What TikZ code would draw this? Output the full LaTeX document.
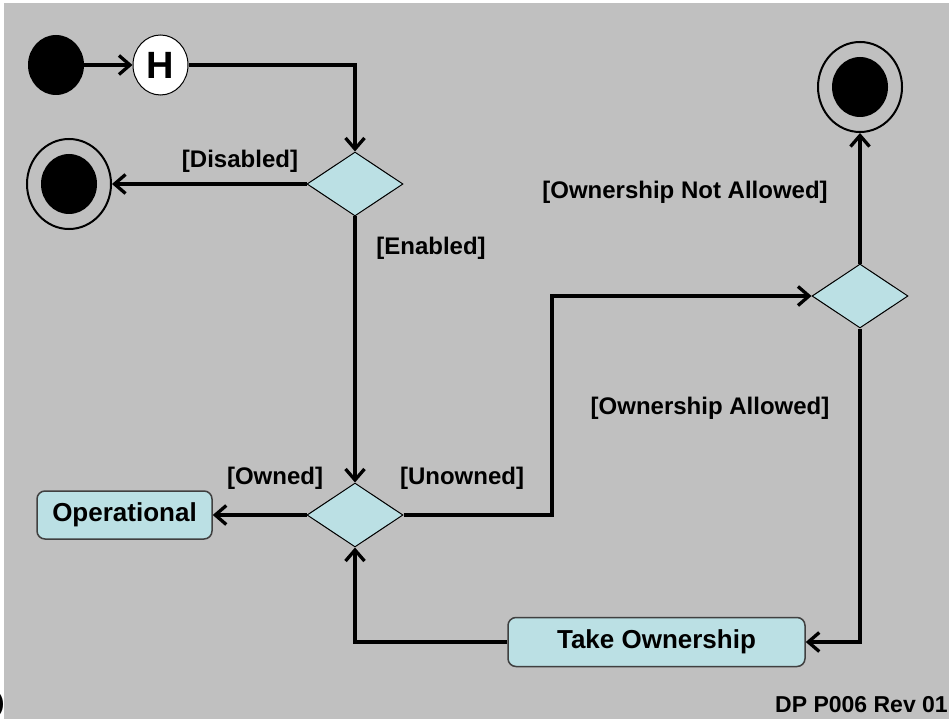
\documentclass[tikz,border=0pt]{standalone}
\usepackage{fontspec}
\setmainfont{Liberation Sans}
\usepackage{tikz}
\usetikzlibrary{arrows.meta,shapes,calc}
\usetikzlibrary{positioning}
\definecolor{backgray}{RGB}{192,192,192}
\definecolor{paleblue}{RGB}{187,224,228}
\definecolor{boxedge}{RGB}{64,64,64}
\tikzstyle{flow}=[draw, line width=3.3pt,
  -{Straight Barb[length=11pt,width=19pt]}]
\tikzstyle{decision} =
  [diamond, draw, fill=paleblue, line width=1pt, inner sep=0pt,
   minimum width=96pt, minimum height=64pt]
\tikzstyle{block} =
  [rectangle, draw=boxedge, fill=paleblue, line width=1.5pt, rounded corners=8pt,
   font=\fontsize{26}{30}\selectfont\bfseries, inner sep=0pt]
\tikzstyle{guard}=[font=\fontsize{24}{28}\selectfont\bfseries, inner sep=0pt]
\tikzstyle{dot}=[ellipse, fill=black, inner sep=0pt,
  minimum width=56pt, minimum height=60pt]
\tikzstyle{ring}=[ellipse, draw, line width=2pt, inner sep=0pt,
  minimum width=84pt, minimum height=90pt]

\begin{document}
\begin{tikzpicture}[x=1pt, y=-1pt]
  \useasboundingbox (0,0) rectangle (949,719);
  \fill [backgray] (4,3) rectangle (949,719);

  \node [dot] (init) at (56,65) {};
  \node [ellipse, draw, fill=white, line width=1pt, inner sep=0pt,
    minimum width=55pt, minimum height=60pt,
    font=\fontsize{38}{40}\selectfont\bfseries] (hist) at (160.5,65) {H};

  \node [decision] (d1) at (355,184) {};
  \node [ring] (end1) at (69,184) {};
  \node [dot] (end1in) at (69,184) {};

  \node [decision] (d2) at (355,515) {};
  \node [block, minimum width=175pt, minimum height=48pt] (oper) at (124.5,515)
    {Operational};

  \node [decision] (d3) at (860,296) {};
  \node [ring] (end2) at (860,87) {};
  \node [dot] (end2in) at (860,87) {};

  \node [block, minimum width=297pt, minimum height=49pt] (take) at (656.5,642)
    {Take Ownership};
  \coordinate (jog) at (552,515);

  \node [guard] (g1) at (240,161) {[Disabled]};
  \node [guard] (g2) at (431,248) {[Enabled]};
  \node [guard] (g3) at (275,478) {[Owned]};
  \node [guard] (g4) at (462,478) {[Unowned]};
  \node [guard] (g5) at (685,192) {[Ownership Not Allowed]};
  \node [guard] (g6) at (710,408) {[Ownership Allowed]};

  \node [font=\fontsize{23}{26}\selectfont\bfseries, inner sep=0pt, anchor=west]
    (rev) at (775,705) {DP P006 Rev 01};
  \node [font=\fontsize{23}{26}\selectfont\bfseries, inner sep=0pt, anchor=east]
    (cut) at (4.5,705) {)};

  \draw [flow] (init) -- (hist);
  \draw [flow] (hist.east) -| (d1.north);
  \draw [flow] (d1.west) -- (end1);
  \draw [flow] (d1.south) -- (d2.north);
  \draw [flow] (d2.west) -- (oper.east);
  \draw [flow] (d2.east) -- (jog) |- (d3.west);
  \draw [flow] (d3.north) -- (end2);
  \draw [flow] (d3.south) |- (take.east);
  \draw [flow] (take.west) -| (d2.south);
\end{tikzpicture}
\end{document}
